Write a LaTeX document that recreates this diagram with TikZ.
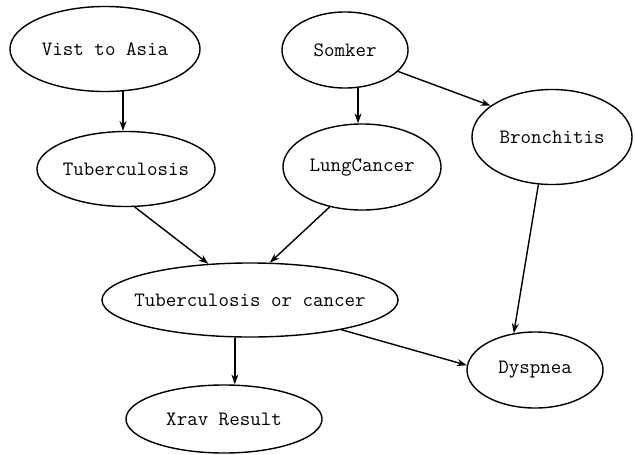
\documentclass[tikz,border=0pt]{standalone}
\usetikzlibrary{arrows.meta,shapes.geometric}

\begin{document}
\begin{tikzpicture}[x=0.025cm, y=-0.025cm,
    nodo/.style={ellipse, draw, line width=1pt, inner xsep=-10pt, inner ysep=0pt,
                 font=\ttfamily\fontsize{14.5}{17}\selectfont},
    freccia/.style={line width=1pt, -{Stealth[length=7pt,width=5pt]}}]
    % Area del disegno
    \useasboundingbox (0,0) rectangle (635,454);

    % Nodi della rete
    \node[nodo, minimum width=4.75cm, minimum height=2.125cm] (visit) at (105,49) {Vist to Asia};
    \node[nodo, minimum width=3.15cm, minimum height=1.9cm] (smoker) at (345,50) {Somker};
    \node[nodo, minimum width=4.0cm, minimum height=2.375cm] (bronch) at (552,137) {Bronchitis};
    \node[nodo, minimum width=4.45cm, minimum height=1.875cm] (tuberc) at (126,169) {Tuberculosis};
    \node[nodo, minimum width=3.95cm, minimum height=2.15cm] (lung) at (362,167) {LungCancer};
    \node[nodo, minimum width=7.4cm, minimum height=1.85cm] (either) at (250,300) {Tuberculosis or cancer};
    \node[nodo, minimum width=3.4cm, minimum height=1.9cm] (dysp) at (535,370) {Dyspnea};
    \node[nodo, minimum width=4.9cm, minimum height=1.7cm] (xray) at (224,419) {Xrav Result};

    % Archi
    \draw[freccia] (visit.-67) -- (visit.-67 |- tuberc.north); % verticale
    \draw[freccia] (smoker.-71) -- (smoker.-71 |- lung.north); % verticale
    \draw[freccia] (smoker.-22) -- (bronch.153);
    \draw[freccia] (tuberc.-77) -- (either.139);
    \draw[freccia] (lung.-129) -- (either.62);
    \draw[freccia] (bronch.-106) -- (dysp.120);
    \draw[freccia] (either.-112) -- (either.-112 |- xray.north); % verticale
    \draw[freccia] (either.-18) -- (dysp.176);
\end{tikzpicture}
\end{document}
